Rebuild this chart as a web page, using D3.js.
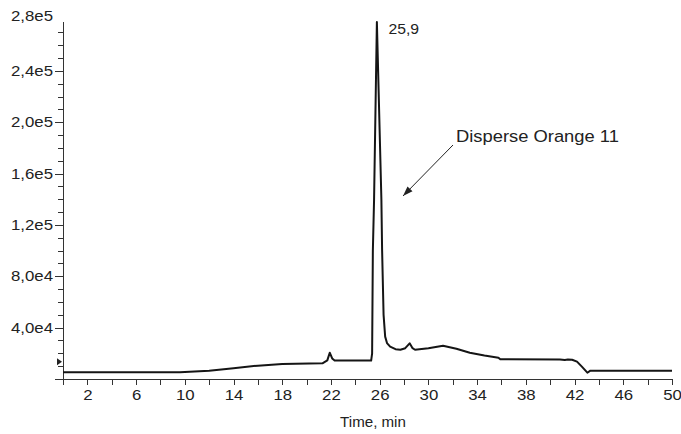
<!DOCTYPE html>
<html>
<head>
<meta charset="utf-8">
<script src="https://cdn.jsdelivr.net/npm/d3@7"></script>
<style>
  body { margin: 0; background: #fff; }
  text { font-family: "Liberation Sans", Arial, Helvetica, sans-serif; fill: #222; }
  .axis path, .axis line { stroke: #333; stroke-width: 1; shape-rendering: crispEdges; }
</style>
</head>
<body>
<svg id="chart" width="681" height="434"></svg>
<script>
// retention time (min) and detector response
const times = [0, 9.6, 12, 14, 16, 18, 21.3, 21.7, 21.9, 22.1, 22.3, 25.3, 25.38, 25.44, 25.54, 25.77,
  26.14, 26.2, 26.32, 26.45, 26.6, 26.86, 27.3, 27.7, 28.1, 28.46, 28.7, 28.9, 30, 31.2, 32.3, 33.4,
  34.6, 35.75, 35.9, 40.8, 41.2, 41.45, 41.8, 42.2, 42.6, 42.9, 43.05, 43.3, 50];
const intensities = [5200, 5200, 6500, 8300, 10400, 11700, 12200, 14500, 20500, 16000, 14400, 14400, 20000,
  100000, 140000, 278000, 140000, 100000, 50000, 33000, 28000, 25200, 23200, 22800, 24000, 27800, 24000,
  22800, 24000, 25900, 23500, 20500, 18300, 16600, 15400, 15200, 14800, 15200, 15000, 13500, 9600, 6500,
  4900, 6500, 6500];

const xTicks = [0, 2, 4, 6, 8, 10, 12, 14, 16, 18, 20, 22, 24, 26, 28, 30, 32, 34, 36, 38, 40, 42, 44, 46, 48, 50];
const xLabelled = [2, 6, 10, 14, 18, 22, 26, 30, 34, 38, 42, 46, 50];
const yMajor = [0, 40000, 80000, 120000, 160000, 200000, 240000, 280000];
const yLabels = ["", "4,0e4", "8,0e4", "1,2e5", "1,6e5", "2,0e5", "2,4e5", "2,8e5"];
const yMinor = [10000, 20000, 30000, 50000, 60000, 70000, 90000, 100000, 110000, 130000, 140000, 150000,
  170000, 180000, 190000, 210000, 220000, 230000, 250000, 260000, 270000];
const markerLevel = 13500;
const peakTime = 25.9, peakValue = 278000, peakLabel = "25,9";
const compoundLabel = "Disperse Orange 11";
const xTitle = "Time, min";

const svg = d3.select("#chart");

const x = d3.scaleLinear().domain([0, 50]).range([63, 672]);
const y = d3.scaleLinear().domain([0, 280000]).range([379, 19.5]);

// the original lettering is a little wider than Liberation Sans
const stretch = 1.2;

// x axis
const xAxis = d3.axisBottom(x)
  .tickValues(xTicks)
  .tickSize(6)
  .tickSizeOuter(0)
  .tickPadding(5)
  .tickFormat(d => xLabelled.includes(d) ? d : "");
svg.append("g")
  .attr("class", "axis x-axis")
  .attr("transform", `translate(0,${y(0)})`)
  .call(xAxis)
  .call(g => g.selectAll("text")
    .attr("font-size", 14).attr("font-family", null).attr("fill", "#222")
    .attr("transform", `scale(${stretch},1)`));

// y axis: minor ticks first, then majors with labels
svg.append("g")
  .attr("class", "axis y-minor")
  .attr("transform", `translate(${x(0)},0)`)
  .call(d3.axisLeft(y).tickValues(yMinor).tickSize(5).tickFormat(""))
  .call(g => g.select(".domain").remove());

const yAxisG = svg.append("g")
  .attr("class", "axis y-axis")
  .attr("transform", `translate(${x(0)},0)`)
  .call(d3.axisLeft(y)
    .tickValues(yMajor)
    .tickSize(8)
    .tickPadding(2)
    .tickFormat((d, i) => yLabels[i]))
  .call(g => g.select(".domain").remove())
  .call(g => g.selectAll("text")
    .attr("font-size", 14).attr("font-family", null).attr("fill", "#222")
    .attr("x", -10 / stretch)
    .attr("transform", `scale(${stretch},1)`));
yAxisG.selectAll(".tick").filter(d => d === 280000).select("line").remove();
yAxisG.selectAll(".tick").filter(d => d === 280000).select("text").attr("dy", "0.1em");

// axis line stops where the trace tops out
svg.append("line")
  .attr("x1", x(0)).attr("x2", x(0))
  .attr("y1", y(peakValue)).attr("y2", y(0))
  .attr("stroke", "#333")
  .attr("shape-rendering", "crispEdges");

// small level marker on the y axis
const my = y(markerLevel);
svg.append("path")
  .attr("d", `M${x(0) - 6},${my - 3.5}L${x(0) - 1},${my}L${x(0) - 6},${my + 3.5}Z`)
  .attr("fill", "#222");

// chromatogram trace
const data = times.map((t, i) => ({t: t, v: intensities[i]}));
const line = d3.line()
  .x(d => x(d.t))
  .y(d => y(d.v));
svg.append("path")
  .datum(data)
  .attr("d", line)
  .attr("fill", "none")
  .attr("stroke", "#151515")
  .attr("stroke-width", 2)
  .attr("stroke-linejoin", "round");

// peak label
svg.append("text")
  .attr("transform", `translate(${x(peakTime) + 10},${y(peakValue) + 12}) scale(1.05,1)`)
  .attr("font-size", 15)
  .text(peakLabel);

// compound annotation with arrow
svg.append("defs").append("marker")
  .attr("id", "arrowhead")
  .attr("viewBox", "0 0 10 10")
  .attr("refX", 10).attr("refY", 5)
  .attr("markerWidth", 10).attr("markerHeight", 10)
  .attr("markerUnits", "userSpaceOnUse")
  .attr("orient", "auto")
  .append("path")
  .attr("d", "M0,1.5L10,5L0,8.5Z")
  .attr("fill", "#222");

svg.append("line")
  .attr("x1", 453).attr("y1", 145)
  .attr("x2", 403).attr("y2", 196)
  .attr("stroke", "#222")
  .attr("stroke-width", 1)
  .attr("marker-end", "url(#arrowhead)");

svg.append("text")
  .attr("transform", "translate(456,142) scale(1.08,1)")
  .attr("font-size", 17)
  .text(compoundLabel);

// x axis title
svg.append("text")
  .attr("transform", "translate(373,427) scale(1.08,1)")
  .attr("text-anchor", "middle")
  .attr("font-size", 14)
  .text(xTitle);
</script>
</body>
</html>
